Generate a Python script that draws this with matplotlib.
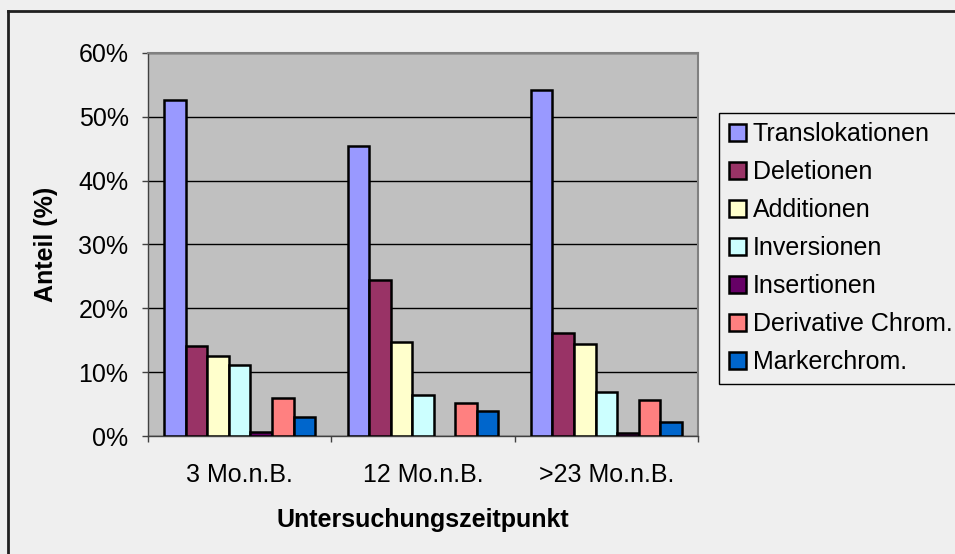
import matplotlib
matplotlib.use("Agg")
import matplotlib.pyplot as plt
import numpy as np
from matplotlib.lines import Line2D
from matplotlib.patches import Patch

categories = ["3 Mo.n.B.", "12 Mo.n.B.", ">23 Mo.n.B."]
series_names = ["Translokationen", "Deletionen", "Additionen", "Inversionen",
                "Insertionen", "Derivative Chrom.", "Markerchrom."]
translokationen = [52.6, 45.5, 54.2]
deletionen = [14.1, 24.4, 16.1]
additionen = [12.6, 14.7, 14.4]
inversionen = [11.1, 6.4, 6.9]
insertionen = [0.7, 0.0, 0.5]
derivative = [5.9, 5.1, 5.6]
marker = [2.9, 3.9, 2.2]
series_values = [translokationen, deletionen, additionen, inversionen,
                 insertionen, derivative, marker]
colors = ["#9999FF", "#993366", "#FFFFCC", "#CCFFFF", "#660066", "#FF8080", "#0066CC"]
yticks = [0, 10, 20, 30, 40, 50, 60]
ytick_labels = ["0%", "10%", "20%", "30%", "40%", "50%", "60%"]

plt.rcParams['font.family'] = ['Liberation Sans', 'DejaVu Sans']
FS = 18
bg = "#EFEFEF"
fig = plt.figure(figsize=(9.55, 5.54), dpi=100, facecolor=bg)
W, H = 955, 554
ax = fig.add_axes([148 / W, 1 - 436 / H, (698 - 148) / W, (436 - 53) / H])
ax.set_facecolor("#C0C0C0")

n = len(series_names)
width = 1.0 / (n + 1.5)
x = np.arange(len(categories))
handles = []
for i, (name, vals, c) in enumerate(zip(series_names, series_values, colors)):
    pos = x + (i - (n - 1) / 2) * width
    vals_arr = np.array(vals)
    mask = vals_arr > 0
    ax.bar(pos[mask], vals_arr[mask], width=width, color=c, edgecolor="black",
           linewidth=1.8, zorder=3)
    handles.append(Patch(facecolor=c, edgecolor="black", linewidth=1.8, label=name))

ax.set_xlim(-0.5, len(categories) - 0.5)
ax.set_ylim(0, 60)
ax.set_yticks(yticks)
ax.set_yticklabels(ytick_labels, fontsize=FS)
ax.yaxis.grid(True, color="black", linewidth=1.0, zorder=1)
ax.set_axisbelow(True)
ax.set_xticks(x)
ax.set_xticklabels(categories, fontsize=FS)
ax.tick_params(axis='x', length=0, pad=19.5)
ax.set_xticks(np.arange(-0.5, len(categories)), minor=True)
ax.tick_params(axis='x', which='minor', length=4.5, color="#404040", width=1)
ax.tick_params(axis='y', length=4, color="#404040", width=1, pad=10)
for s in ["top", "right"]:
    ax.spines[s].set_color("#808080")
    ax.spines[s].set_linewidth(1.5)
for s in ["left", "bottom"]:
    ax.spines[s].set_color("#404040")
    ax.spines[s].set_linewidth(1.0)

ax.set_ylabel("Anteil (%)", fontsize=FS, fontweight="bold", labelpad=15)
ax.set_xlabel("Untersuchungszeitpunkt", fontsize=FS, fontweight="bold", labelpad=15)

leg = fig.legend(handles=handles, loc="upper left",
                 bbox_to_anchor=(719 / W, 1 - 112.7 / H), fontsize=FS,
                 frameon=True, fancybox=False, edgecolor="black",
                 facecolor=bg, framealpha=1, handlelength=0.68, handleheight=0.68,
                 handletextpad=0.28, labelspacing=0.56, borderpad=0.38,
                 borderaxespad=0)
leg.get_frame().set_linewidth(1.0)

fig.add_artist(Line2D([8 / W, 1.0], [1 - 11 / H, 1 - 11 / H], transform=fig.transFigure,
                      color="#202020", linewidth=2))
fig.add_artist(Line2D([8 / W, 8 / W], [0, 1 - 11 / H], transform=fig.transFigure,
                      color="#202020", linewidth=2))

fig.savefig("out.png", dpi=100, facecolor=bg)
